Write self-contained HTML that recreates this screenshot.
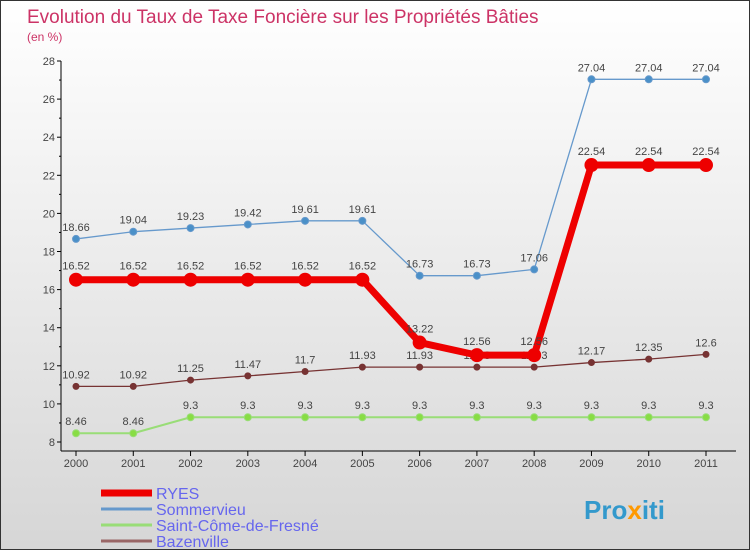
<!DOCTYPE html>
<html><head><meta charset="utf-8"><style>
body{margin:0}
#c{width:750px;height:550px;position:relative;background:linear-gradient(#ffffff,#d6d6d6);border:1px solid #333;box-sizing:border-box;font-family:"Liberation Sans",sans-serif;overflow:hidden}
</style></head><body>
<div id="c">
<svg width="750" height="550" id="s" style="position:absolute;left:0;top:0">
<text x="26" y="22" font-size="19" fill="#cc3366">Evolution du Taux de Taxe Foncière sur les Propriétés Bâties</text>
<text x="26" y="40" font-size="12" fill="#cc3366">(en %)</text>
<g id="axes"></g><g id="series"></g><g id="legend"></g>
<text x="583" y="518" font-size="26" font-weight="bold" fill="#3399cc">Pro<tspan fill="#ff9900">x</tspan>iti</text>
</svg>
</div>
<script>
const years=[2000,2001,2002,2003,2004,2005,2006,2007,2008,2009,2010,2011];
const yTicks=[8,10,12,14,16,18,20,22,24,26,28];
const seriesNames=["RYES","Sommervieu","Saint-Côme-de-Fresné","Bazenville"];
const ryes=[16.52,16.52,16.52,16.52,16.52,16.52,13.22,12.56,12.56,22.54,22.54,22.54];
const sommervieu=[18.66,19.04,19.23,19.42,19.61,19.61,16.73,16.73,17.06,27.04,27.04,27.04];
const saintCome=[8.46,8.46,9.3,9.3,9.3,9.3,9.3,9.3,9.3,9.3,9.3,9.3];
const bazenville=[10.92,10.92,11.25,11.47,11.7,11.93,11.93,11.93,11.93,12.17,12.35,12.6];
const NS="http://www.w3.org/2000/svg";
const xs=i=>75+i*(630/11);
const ys=v=>441-(v-8)*(381/20);
function mk(t,a,p){const e=document.createElementNS(NS,t);for(const k in a)e.setAttribute(k,a[k]);p.appendChild(e);return e;}
const ax=document.getElementById('axes');
const yl=mk('line',{x1:60,y1:60,x2:60,y2:450,stroke:'#000'},ax);


const xl=mk('line',{x1:60,y1:450,x2:735,y2:450,stroke:'#000'},ax);


yTicks.forEach(v=>{
 mk('line',{x1:56,x2:60,y1:ys(v),y2:ys(v),stroke:'#000'},ax);
 if(v<28)mk('line',{x1:58,x2:60,y1:ys(v+1),y2:ys(v+1),stroke:'#000'},ax);
 const t=mk('text',{x:54,y:ys(v)+4,'font-size':11,fill:'#444','text-anchor':'end'},ax);t.textContent=v;
 
 
});
years.forEach((y,i)=>{
 mk('line',{x1:xs(i),x2:xs(i),y1:450,y2:455,stroke:'#000'},ax);
 const t=mk('text',{x:xs(i),y:466,'font-size':11,fill:'#444','text-anchor':'middle'},ax);t.textContent=y;
 
 
});
const sg=document.getElementById('series');
function draw(vals,color,w,r,name,dot,lblOff){
 const g=mk('g',{},sg);
 
 
 mk('polyline',{points:vals.map((v,i)=>xs(i)+','+ys(v)).join(' '),fill:'none',stroke:color,'stroke-width':w,'stroke-linejoin':'round'},g);
 vals.forEach((v,i)=>{
  const c=mk('circle',{cx:xs(i),cy:ys(v),r:r,fill:dot,stroke:color,'stroke-width':1},g);
  
  
  const t=mk('text',{x:xs(i),y:ys(v)-lblOff,'font-size':11,fill:'#444','text-anchor':'middle'},g);t.textContent=v;
 });
}
draw(sommervieu,'#6699cc',1.3,3.5,'series-sommervieu','#4a90c8',8);
draw(saintCome,'#99dd77',2,3.5,'series-saint-come','#88dd44',8);
draw(bazenville,'#773333',1.3,3,'series-bazenville','#773333',8);
draw(ryes,'#ee0000',7,6.5,'series-ryes','#ee0000',10);
const lg=document.getElementById('legend');
const lc=['#ee0000','#6699cc','#99dd77','#996666'],lw=[7,3,3,3];
seriesNames.forEach((n,i)=>{
 const y=492+i*16;
 const g=mk('g',{},lg);
 
 
 mk('line',{x1:100,x2:151,y1:y,y2:y,stroke:lc[i],'stroke-width':lw[i]},g);
 const t=mk('text',{x:155,y:y+6,'font-size':16,fill:'#6666ee'},g);t.textContent=n;
});
</script>
</body></html>
